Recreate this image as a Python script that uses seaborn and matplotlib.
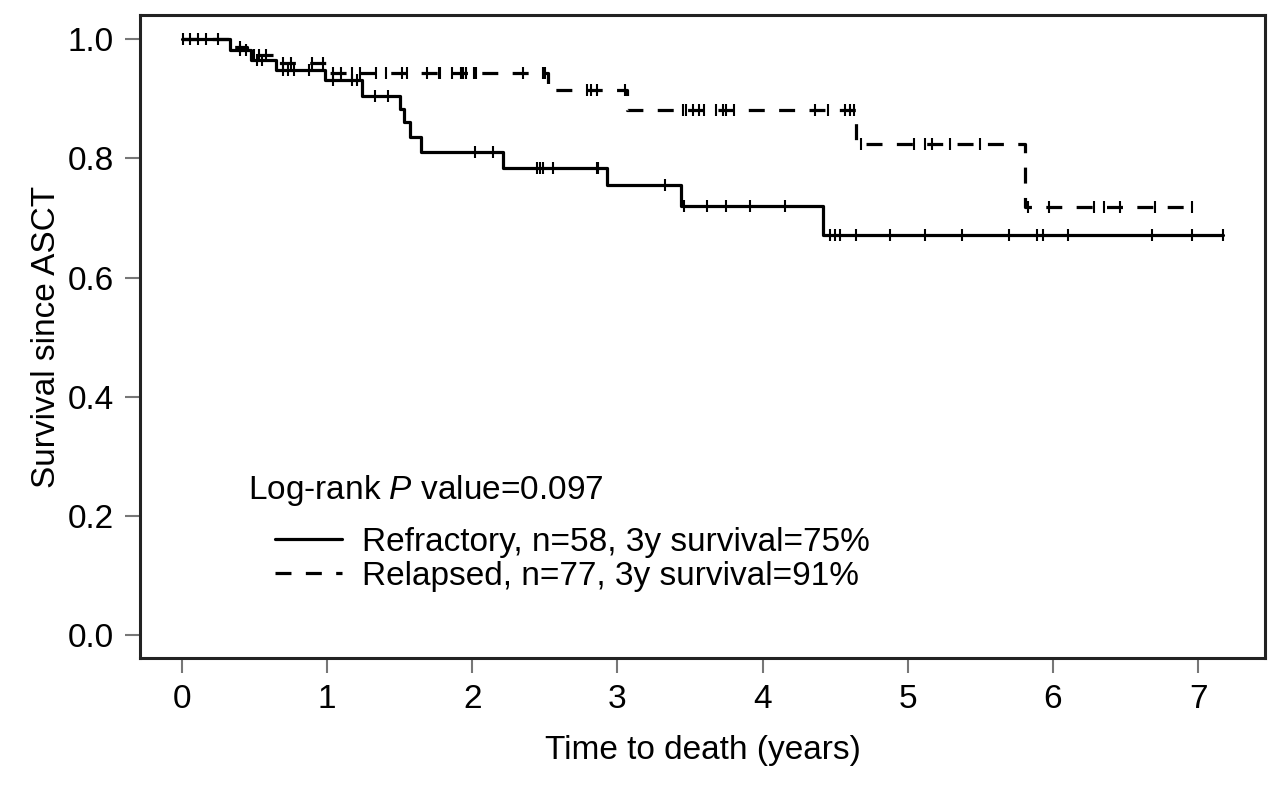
import numpy as np
import pandas as pd
import matplotlib
matplotlib.use("Agg")
from matplotlib import pyplot as plt
from matplotlib.lines import Line2D
import seaborn as sns

# step points (time in years, survival)
refr_time = [0.0, 0.33, 0.48, 0.65, 0.99, 1.24, 1.50, 1.53, 1.57, 1.65, 2.215, 2.93, 3.44, 4.415, 7.17]
refr_surv = [1.0, 0.983, 0.966, 0.948, 0.931, 0.905, 0.883, 0.862, 0.836, 0.811, 0.784, 0.756, 0.721, 0.672, 0.672]
rel_time = [0.0, 0.36, 0.45, 0.66, 1.0, 2.525, 3.065, 4.644, 5.81, 6.96]
rel_surv = [1.0, 0.987, 0.974, 0.961, 0.943, 0.915, 0.882, 0.824, 0.719, 0.719]

# censored observations
refr_cens = [0.06, 0.17, 0.40, 0.44, 0.52, 0.55, 0.70, 0.73, 0.77, 0.88, 1.04, 1.17, 1.205,
             1.33, 1.42, 2.02, 2.146, 2.445, 2.47, 2.49, 2.56, 2.858, 2.87, 3.33,
             3.46, 3.615, 3.75, 3.91, 4.155, 4.465, 4.50, 4.533, 4.64, 4.88, 5.12, 5.37,
             5.70, 5.89, 5.93, 6.10, 6.68, 6.96, 7.17]
rel_cens = [0.01, 0.11, 0.25, 0.40, 0.50, 0.53, 0.58, 0.70, 0.75, 0.90, 0.97,
            1.04, 1.10, 1.17, 1.23, 1.34, 1.41, 1.515, 1.55, 1.69, 1.77, 1.78, 1.86, 1.92,
            1.94, 1.96, 2.01, 2.03, 2.35, 2.49, 2.50, 2.79, 2.82, 2.86, 3.05,
            3.455, 3.47, 3.52, 3.56, 3.60, 3.68, 3.73, 3.75, 3.80, 4.36, 4.45, 4.57, 4.60, 4.63,
            4.68, 5.04, 5.12, 5.165, 5.29, 5.50, 5.83, 5.97, 6.28, 6.35, 6.46, 6.70, 6.96]

labels = ["Refractory, n=58, 3y survival=75%", "Relapsed, n=77, 3y survival=91%"]


def surv_at(times, steps, survs):
    idx = np.searchsorted(steps, times, side="right") - 1
    return np.asarray(survs)[idx]


curves = pd.concat([
    pd.DataFrame({"time": refr_time, "surv": refr_surv, "group": "Refractory"}),
    pd.DataFrame({"time": rel_time, "surv": rel_surv, "group": "Relapsed"}),
])
cens = pd.concat([
    pd.DataFrame({"time": refr_cens, "surv": surv_at(refr_cens, refr_time, refr_surv)}),
    pd.DataFrame({"time": rel_cens, "surv": surv_at(rel_cens, rel_time, rel_surv)}),
])

sns.set_style("ticks")
plt.rcParams["font.family"] = ["Liberation Sans", "DejaVu Sans"]
plt.rcParams["mathtext.fontset"] = "custom"
plt.rcParams["mathtext.it"] = "Liberation Sans:italic"
plt.rcParams["mathtext.rm"] = "Liberation Sans"
plt.rcParams["text.color"] = "black"
plt.rcParams["axes.labelcolor"] = "black"
plt.rcParams["xtick.labelcolor"] = "black"
plt.rcParams["ytick.labelcolor"] = "black"

fig = plt.figure(figsize=(12.8, 7.94), dpi=100)
ax = fig.add_axes([0.1094, 0.1713, 0.8789, 0.8098])

sns.lineplot(data=curves, x="time", y="surv", style="group", drawstyle="steps-post",
             estimator=None, sort=False, color="black", linewidth=2.3,
             dashes={"Refractory": "", "Relapsed": (5, 4.5)}, legend=False, ax=ax)
sns.scatterplot(data=cens, x="time", y="surv", marker="|", s=70, color="black",
                linewidth=1.5, legend=False, ax=ax)

ax.set_xlim(-0.287, 7.46)
ax.set_ylim(-0.039, 1.041)
ax.set_xticks(range(0, 8))
ax.set_yticks([0.0, 0.2, 0.4, 0.6, 0.8, 1.0])
ax.set_yticklabels(["0.0", "0.2", "0.4", "0.6", "0.8", "1.0"])
ax.tick_params(axis="both", labelsize=24, length=11, width=1.5, color="#777777", pad=8)
ax.set_xlabel("Time to death (years)", fontsize=24, labelpad=14)
ax.set_ylabel("Survival since ASCT", fontsize=24, labelpad=4)
for sp in ax.spines.values():
    sp.set_visible(True)
    sp.set_linewidth(2.2)
    sp.set_color("#222222")

ax.text(0.096, 0.261, "Log-rank $P$ value=0.097", transform=ax.transAxes,
        fontsize=24, va="center", ha="left")
handles = [Line2D([], [], color="black", linewidth=2.3),
           Line2D([], [], color="black", linewidth=2.3, dashes=(5, 4.5))]
ax.legend(handles, labels, loc="upper left", bbox_to_anchor=(0.108, 0.225), frameon=False,
          fontsize=24, handlelength=2.0, handletextpad=0.6, labelspacing=0.1,
          borderaxespad=0)

fig.savefig("out.png", dpi=100)
